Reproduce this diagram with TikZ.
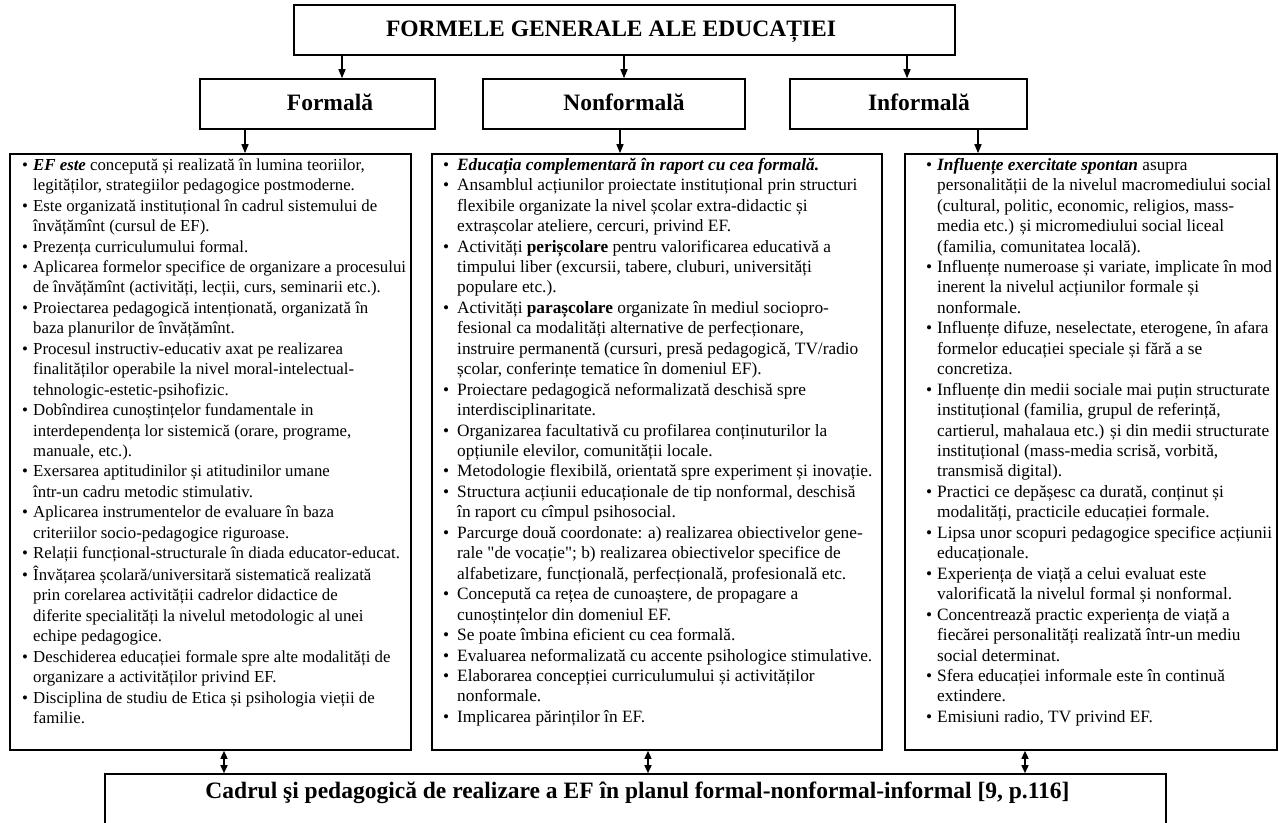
\documentclass[tikz,border=0pt]{standalone}
\usepackage{fontspec}
\setmainfont{Liberation Serif}[Ligatures=TeXOff]
\usetikzlibrary{arrows.meta}
\newlength\bw
\newcommand\bl{\strut\makebox[\bw][l]{\textbullet}}
\newcommand\cl{\strut\hspace*{\bw}}
\begin{document}
\begin{tikzpicture}[x=1pt,y=-1pt,
  box/.style={draw, line width=1.6pt, inner sep=0pt},
  hdr/.style={anchor=base, inner sep=0pt, font=\fontsize{23.5}{28}\selectfont\bfseries},
  arr/.style={line width=1.4pt, -{Triangle[length=9pt,width=7pt]}},
  darr/.style={line width=1.4pt, {Triangle[length=8pt,width=7pt]}-{Triangle[length=8pt,width=7pt]}},
  coltxt/.style={anchor=north west, inner sep=0pt, align=left, font=\fontsize{17.3}{20.45}\selectfont}]
\useasboundingbox (0,0) rectangle (1279,822);
% boxes
\node[box, minimum width=661pt, minimum height=50pt] (top) at (624.5,30) {};
\node[box, minimum width=235pt, minimum height=50pt] (f) at (317.5,104) {};
\node[box, minimum width=262pt, minimum height=50pt] (n) at (614,104) {};
\node[box, minimum width=237pt, minimum height=50pt] (i) at (908.5,104) {};
\node[box, minimum width=401pt, minimum height=596pt] (cl) at (210.5,452) {};
\node[box, minimum width=450pt, minimum height=596pt] (cm) at (657,452) {};
\node[box, minimum width=372pt, minimum height=596pt] (cr) at (1091,452) {};
\node[box, minimum width=1061pt, minimum height=56pt] (bot) at (635.5,802) {};
% header texts
\node[hdr] (toptxt) at (611,36) {FORMELE GENERALE ALE EDUCAȚIEI};
\node[hdr] (ftxt) at (330,110) {Formală};
\node[hdr] (ntxt) at (624,110) {Nonformală};
\node[hdr] (itxt) at (919,110) {Informală};
\node[hdr] (bottxt) at (637.5,798) {Cadrul şi pedagogică de realizare a EF în planul formal-nonformal-informal [9, p.116]};
% connector x positions
\coordinate (a1) at (342,0);
\coordinate (a2) at (624,0);
\coordinate (a3) at (907,0);
\coordinate (b1) at (245,0);
\coordinate (b2) at (620,0);
\coordinate (b3) at (978,0);
\coordinate (c1) at (224,0);
\coordinate (c2) at (648,0);
\coordinate (c3) at (1025,0);
\draw[arr] (top.south -| a1) -- (f.north -| a1);
\draw[arr] (top.south -| a2) -- (n.north -| a2);
\draw[arr] (top.south -| a3) -- (i.north -| a3);
\draw[arr] (f.south -| b1) -- (cl.north -| b1);
\draw[arr] (n.south -| b2) -- (cm.north -| b2);
\draw[arr] (i.south -| b3) -- (cr.north -| b3);
\draw[darr] (cl.south -| c1) -- (bot.north -| c1);
\draw[darr] (cm.south -| c2) -- (bot.north -| c2);
\draw[darr] (cr.south -| c3) -- (bot.north -| c3);
% column texts
\setlength\bw{11pt}
\node[coltxt, font=\fontsize{16.8}{20.45}\selectfont] (ltxt) at (22,155.7) {%
\bl\textbf{\textit{EF este}} concepută și realizată în lumina teoriilor,\\
\cl legităților, strategiilor pedagogice postmoderne.\\
\bl Este organizată instituțional în cadrul sistemului de\\
\cl învățămînt (cursul de EF).\\
\bl Prezența curriculumului formal.\\
\bl Aplicarea formelor specifice de organizare a procesului\\
\cl de învățămînt (activități, lecții, curs, seminarii etc.).\\
\bl Proiectarea pedagogică intenționată, organizată în\\
\cl baza planurilor de învățămînt.\\
\bl Procesul instructiv-educativ axat pe realizarea\\
\cl finalităților operabile la nivel moral-intelectual-\\
\cl tehnologic-estetic-psihofizic.\\
\bl Dobîndirea cunoștințelor fundamentale in\\
\cl interdependența lor sistemică (orare, programe,\\
\cl manuale, etc.).\\
\bl Exersarea aptitudinilor și atitudinilor umane\\
\cl într-un cadru metodic stimulativ.\\
\bl Aplicarea instrumentelor de evaluare în baza\\
\cl criteriilor socio-pedagogice riguroase.\\
\bl Relații funcțional-structurale în diada educator-educat.\\
\bl Învățarea școlară/universitară sistematică realizată\\
\cl prin corelarea activității cadrelor didactice de\\
\cl diferite specialități la nivelul metodologic al unei\\
\cl echipe pedagogice.\\
\bl Deschiderea educației formale spre alte modalități de\\
\cl organizare a activităților privind EF.\\
\bl Disciplina de studiu de Etica și psihologia vieții de\\
\cl familie.};
\setlength\bw{14pt}
\node[coltxt] (mtxt) at (443,155.7) {%
\bl\textbf{\textit{Educația complementară în raport cu cea formală.}}\\
\bl Ansamblul acțiunilor proiectate instituțional prin structuri\\
\cl flexibile organizate la nivel școlar extra-didactic și\\
\cl extrașcolar ateliere, cercuri, privind EF.\\
\bl Activități \textbf{perișcolare} pentru valorificarea educativă a\\
\cl timpului liber (excursii, tabere, cluburi, universități\\
\cl populare etc.).\\
\bl Activități \textbf{parașcolare} organizate în mediul sociopro-\\
\cl fesional ca modalități alternative de perfecționare,\\
\cl instruire permanentă (cursuri, presă pedagogică, TV/radio\\
\cl școlar, conferințe tematice în domeniul EF).\\
\bl Proiectare pedagogică neformalizată deschisă spre\\
\cl interdisciplinaritate.\\
\bl Organizarea facultativă cu profilarea conținuturilor la\\
\cl opțiunile elevilor, comunității locale.\\
\bl Metodologie flexibilă, orientată spre experiment și inovație.\\
\bl Structura acțiunii educaționale de tip nonformal, deschisă\\
\cl în raport cu cîmpul psihosocial.\\
\bl Parcurge două coordonate: a) realizarea obiectivelor gene-\\
\cl rale "de vocație"; b) realizarea obiectivelor specifice de\\
\cl alfabetizare, funcțională, perfecțională, profesională etc.\\
\bl Concepută ca rețea de cunoaștere, de propagare a\\
\cl cunoștințelor din domeniul EF.\\
\bl Se poate îmbina eficient cu cea formală.\\
\bl Evaluarea neformalizată cu accente psihologice stimulative.\\
\bl Elaborarea concepției curriculumului și activităților\\
\cl nonformale.\\
\bl Implicarea părinților în EF.};
\setlength\bw{11pt}
\node[coltxt] (rtxt) at (926,155.7) {%
\bl\textbf{\textit{Influențe exercitate spontan}} asupra\\
\cl personalității de la nivelul macromediului social\\
\cl (cultural, politic, economic, religios, mass-\\
\cl media etc.) și micromediului social liceal\\
\cl (familia, comunitatea locală).\\
\bl Influențe numeroase și variate, implicate în mod\\
\cl inerent la nivelul acțiunilor formale și\\
\cl nonformale.\\
\bl Influențe difuze, neselectate, eterogene, în afara\\
\cl formelor educației speciale și fără a se\\
\cl concretiza.\\
\bl Influențe din medii sociale mai puțin structurate\\
\cl instituțional (familia, grupul de referință,\\
\cl cartierul, mahalaua etc.) și din medii structurate\\
\cl instituțional (mass-media scrisă, vorbită,\\
\cl transmisă digital).\\
\bl Practici ce depășesc ca durată, conținut și\\
\cl modalități, practicile educației formale.\\
\bl Lipsa unor scopuri pedagogice specifice acțiunii\\
\cl educaționale.\\
\bl Experiența de viață a celui evaluat este\\
\cl valorificată la nivelul formal și nonformal.\\
\bl Concentrează practic experiența de viață a\\
\cl fiecărei personalități realizată într-un mediu\\
\cl social determinat.\\
\bl Sfera educației informale este în continuă\\
\cl extindere.\\
\bl Emisiuni radio, TV privind EF.};
\end{tikzpicture}
\end{document}
